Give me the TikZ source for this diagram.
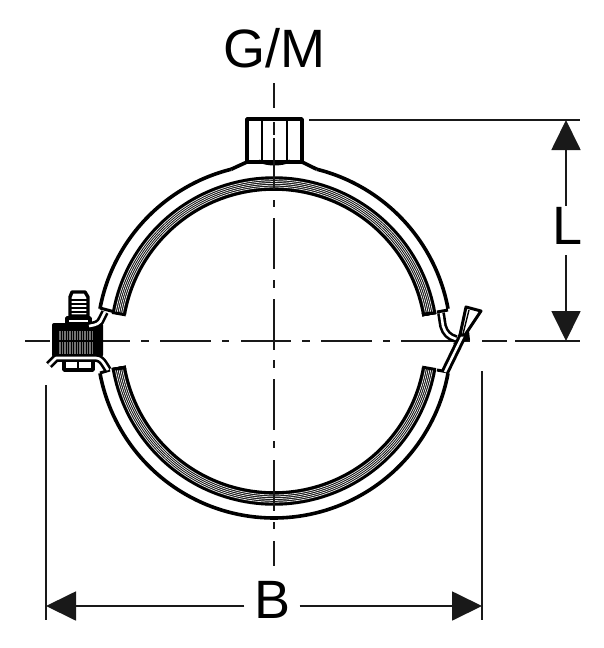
\documentclass[tikz,border=0pt]{standalone}
\usepackage{fontspec}
\setmainfont{Liberation Sans}
\usetikzlibrary{arrows.meta,calc,positioning}
\newcommand{\ringarc}[4][]{\draw[#1] plot[domain=#2:#3,samples=90] ({274+#4*cos(\x)},{341-#4*sin(\x)});}
\newcommand{\rubber}[2]{
	\ringarc[rubberfill]{#1}{#2}{157.5}
	\foreach \r in {154,155.8,157.6,159.4,161.2}
		\ringarc[rubberline]{#1}{#2}{\r}
	\draw[capline] ({274+150.5*cos(#1)},{341-150.5*sin(#1)}) -- ({274+164.5*cos(#1)},{341-164.5*sin(#1)});
	\draw[capline] ({274+150.5*cos(#2)},{341-150.5*sin(#2)}) -- ({274+164.5*cos(#2)},{341-164.5*sin(#2)});
}
\tikzset{
	medida/.style={
		font=\fontsize{54}{54}\selectfont,
		inner sep=0pt,
		anchor=base,
		text=black
	},
	eje/.style={line width=1.8pt,black!90},
	dimline/.style={line width=1.8pt,black!90},
	dimarrow/.style={dimline,-{Triangle[length=30pt,width=29pt]},shorten >=0pt},
	banda/.style={line width=3.6pt,line join=round},
	rubberfill/.style={line width=14.5pt,black},
	rubberline/.style={line width=0.8pt,white!90!black},
	capline/.style={line width=3pt},
	fleje/.style={line width=2.6pt,double=white,double distance=2.6pt,line join=round},
	pieza/.style={line width=3.4pt,fill=white,line join=round},
	fina/.style={line width=1.4pt}
}
\begin{document}
\begin{tikzpicture}[x=1pt,y=-1pt]
	\useasboundingbox (0,0) rectangle (604,648);
	
	% Banda exterior
	\ringarc[banda]{104}{169.5}{177}
	\ringarc[banda]{10.5}{76}{177}
	\ringarc[banda]{190.5}{349.5}{177}
	\draw[banda] ({274+177*cos(104)},{341-177*sin(104)}) -- (247,162);
	\draw[banda] ({274+177*cos(76)},{341-177*sin(76)}) -- (302,162);
	\draw[capline] (100,308) -- (115,312);
	\draw[capline] (448,310) -- (437,312);
	\draw[capline] (100,373) -- (110,370);
	\draw[capline] (448,372) -- (437,370);
	
	% Goma
	\rubber{10}{170}
	\rubber{190}{350}
	
	% Tuerca superior
	\draw[pieza] (247,119) rectangle (302,162);
	\draw[fina] (262,120) -- (262,161);
	\draw[fina] (287,120) -- (287,161);
	\draw[capline] (259,161) .. controls (268,165) and (281,165) .. (290,161);
	
	% Ejes
	\foreach \a/\b in {25/50,60/68,80/130,141/149,160/211,222/229,241/291,302/310,321/372,383/390,401/470,482/507,515/580}
		\draw[eje] (\a,341) -- (\b,341);
	\foreach \a/\b in {83/108,122/135,138/189,200/207,218/269,280/288,299/350,360/368,379/430,441/448,460/511,522/529,541/566}
		\draw[eje] (274,\a) -- (274,\b);
	
	% Tornillo izquierdo
	\draw[pieza] (72,292) -- (85,292) -- (88,297) -- (88,316) -- (70,316) -- (70,297) -- cycle;
	\foreach \y in {300,304,308,312}
		\draw[fina] (71,\y) -- (87,\y);
	\draw[pieza] (67,318) rectangle (90,324);
	\fill[black,rounded corners=2pt] (52,323) rectangle (103,357);
	\foreach \x in {60,62.5,...,92.5}
		\draw[line width=1.2pt,white!45!black] (\x,331) -- (\x,354);
	\draw[eje,black] (52,341) -- (103,341);
	\draw[pieza] (64,359) rectangle (93,370);
	\draw[fina,line width=2pt] (78,359) -- (78,370);
	\draw[fleje] (49,365) -- (56,358) -- (96,358) .. controls (101,358) and (103,362) .. (108,370);
	\draw[fleje] (105,312) -- (102,318) .. controls (100,324) and (96,325) .. (89,326);
	
	% Palanca derecha
	\draw[fleje] (441,313) -- (443,326) .. controls (445,333) and (449,337) .. (456,339);
	\fill (453,344) -- (469,331) -- (470,340) -- cycle;
	\draw[fleje,double distance=2.4pt,line width=3pt] (464,333) -- (445,372);
	\draw[pieza,line width=3pt] (466,307) -- (481,311) -- (465,335) -- (460,335) -- cycle;
	\draw[fina] (469,310) -- (463,334);
	
	% Cotas
	\node[medida] (GM) at (274.5,67) {G/M};
	\node[medida] (Lcota) at (568,244) {L};
	\node[medida] (Bcota) at (272.5,618) {B};
	
	\coordinate (Ltop) at (566,120);
	\coordinate (Lbot) at (566,341);
	\coordinate (Bizq) at (46,606);
	\coordinate (Bder) at (482,606);
	
	\draw[dimline] (309,120) -- (580,120);
	\draw[dimline] (46,385) -- (46,620);
	\draw[dimline] (482,371) -- (482,620);
	
	\draw[dimarrow] ([yshift=1pt]Ltop |- Lcota.north) -- (Ltop);
	\draw[dimarrow] ([yshift=-11pt]Lbot |- Lcota.south) -- (Lbot);
	\draw[dimarrow] ([xshift=-10pt]Bcota.west |- Bizq) -- (Bizq);
	\draw[dimarrow] ([xshift=9pt]Bcota.east |- Bder) -- (Bder);
\end{tikzpicture}
\end{document}
